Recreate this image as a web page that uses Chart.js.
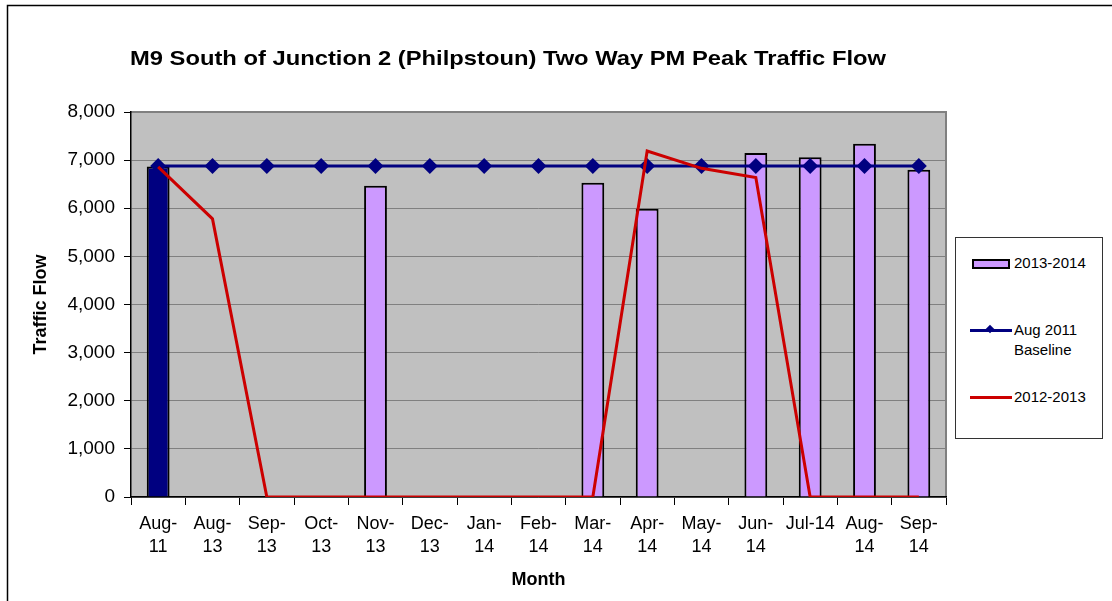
<!DOCTYPE html>
<html>
<head>
<meta charset="utf-8">
<script src="https://cdn.jsdelivr.net/npm/chart.js@4"></script>
<style>
html,body{margin:0;padding:0;background:#fff;}
#wrap{position:relative;width:1112px;height:601px;overflow:hidden;}
canvas{position:absolute;left:0;top:0;}
#legend{position:absolute;left:955px;top:237px;width:148px;height:202px;border:1px solid #333;box-sizing:border-box;background:#fff;font-family:"Liberation Sans",Arial,sans-serif;font-size:15px;color:#000;}
.sw{position:absolute;}
.tx{position:absolute;left:58px;line-height:20px;white-space:nowrap;}
</style>
</head>
<body>
<div id="wrap">
<canvas id="c" width="1112" height="601"></canvas>
<div id="legend"></div>
</div>
<script>
const categories = [["Aug-","11"],["Aug-","13"],["Sep-","13"],["Oct-","13"],["Nov-","13"],["Dec-","13"],["Jan-","14"],["Feb-","14"],["Mar-","14"],["Apr-","14"],["May-","14"],["Jun-","14"],"Jul-14",["Aug-","14"],["Sep-","14"]];
const flow2013_2014 = [6870, null, null, null, 6470, null, null, null, 6530, 5990, null, 7150, 7060, 7340, 6800];
const baselineAug2011 = [6880, 6880, 6880, 6880, 6880, 6880, 6880, 6880, 6880, 6880, 6880, 6880, 6880, 6880, 6880];
const flow2012_2013 = [6860, 5780, 0, 0, 0, 0, 0, 0, 0, 7190, 6830, 6640, 0, 0, 0];
const seriesNames = ["2013-2014", "Aug 2011 Baseline", "2012-2013"];
const yTicks = [0, 1000, 2000, 3000, 4000, 5000, 6000, 7000, 8000];

const FONT = "'Liberation Sans', Arial, sans-serif";
const barColors = flow2013_2014.map((v, i) => i === 0 ? '#000080' : '#CC99FF');

const bgPlugin = {
  id: 'bg',
  beforeDraw(chart) {
    const {ctx, chartArea: a} = chart;
    ctx.save();
    ctx.fillStyle = '#C0C0C0';
    ctx.fillRect(a.left, a.top, a.right - a.left, a.bottom - a.top);
    ctx.strokeStyle = '#808080';
    ctx.lineWidth = 2;
    ctx.beginPath();
    ctx.moveTo(a.left, a.top); ctx.lineTo(a.right, a.top); ctx.lineTo(a.right, a.bottom);
    ctx.stroke();
    ctx.strokeStyle = '#000';
    ctx.lineWidth = 1.5;
    ctx.beginPath();
    ctx.moveTo(7.5, 601); ctx.lineTo(7.5, 5.5); ctx.lineTo(1112, 5.5);
    ctx.stroke();
    // title, fitted to the reference width
    const title = 'M9 South of Junction 2 (Philpstoun) Two Way PM Peak Traffic Flow';
    ctx.fillStyle = '#000';
    ctx.font = "bold 21px " + FONT;
    const w = ctx.measureText(title).width;
    const sx = 756 / w;
    ctx.translate(508, 59);
    ctx.scale(sx, 1);
    ctx.textAlign = 'center';
    ctx.textBaseline = 'middle';
    ctx.fillText(title, 0, 0);
    ctx.restore();
  }
};

new Chart(document.getElementById('c'), {
  data: {
    labels: categories,
    datasets: [
      {
        type: 'line', label: seriesNames[2], data: flow2012_2013,
        borderColor: '#CC0000', backgroundColor: '#CC0000', borderWidth: 3,
        pointRadius: 0, tension: 0, order: 1
      },
      {
        type: 'line', label: seriesNames[1], data: baselineAug2011,
        borderColor: '#000080', backgroundColor: '#000080', borderWidth: 3,
        pointStyle: 'rectRot', pointRadius: 8, pointBorderWidth: 0, tension: 0, order: 2
      },
      {
        type: 'bar', label: seriesNames[0], data: flow2013_2014,
        backgroundColor: barColors, borderColor: '#000', borderWidth: 2,
        categoryPercentage: 1, barPercentage: 0.42, order: 3
      }
    ]
  },
  options: {
    responsive: false,
    animation: false,
    layout: { padding: { left: 30, right: 166, top: 112, bottom: 10 } },
    plugins: { legend: { display: false }, tooltip: { enabled: false }, title: { display: false } },
    scales: {
      x: {
        offset: true,
        grid: { offset: true, drawOnChartArea: false, color: '#000', tickColor: '#000', tickLength: 8, tickWidth: 1 },
        border: { color: '#000', width: 1.5 },
        ticks: { color: '#000', font: { family: FONT, size: 18, lineHeight: 1.3 }, maxRotation: 0, autoSkip: false, padding: 7 },
        title: { display: true, text: 'Month', color: '#000', font: { family: FONT, size: 18, weight: 'bold' }, padding: { top: 8, bottom: 0 } },
        afterFit(s) { s.height = 94; }
      },
      y: {
        min: 0, max: 8000,
        afterBuildTicks(s) { s.ticks = yTicks.map(v => ({ value: v })); },
        grid: { color: '#808080', tickColor: '#000', tickLength: 7, lineWidth: 1 },
        border: { color: '#000', width: 1.5 },
        ticks: { color: '#000', font: { family: FONT, size: 19 }, padding: 9,
          callback: v => v.toLocaleString('en-US') },
        title: { display: true, text: 'Traffic Flow', color: '#000', font: { family: FONT, size: 18, weight: 'bold' }, padding: { top: 0, bottom: 0 } },
        afterFit(s) { s.width = 101; }
      }
    }
  },
  plugins: [bgPlugin]
});

const lg = document.getElementById('legend');
lg.innerHTML =
  '<div class="sw" style="left:16px;top:21px;width:34px;height:6px;background:#CC99FF;border:2px solid #000;"></div>' +
  '<div class="tx" style="top:15px;">' + seriesNames[0] + '</div>' +
  '<div class="sw" style="left:14px;top:91px;width:42px;height:3px;background:#000080;"></div>' +
  '<div class="sw" style="left:31px;top:88px;width:6px;height:6px;background:#000080;transform:rotate(45deg);"></div>' +
  '<div class="tx" style="top:82px;">Aug 2011<br>Baseline</div>' +
  '<div class="sw" style="left:14px;top:158px;width:42px;height:3px;background:#CC0000;"></div>' +
  '<div class="tx" style="top:149px;">' + seriesNames[2] + '</div>';
</script>
</body>
</html>
